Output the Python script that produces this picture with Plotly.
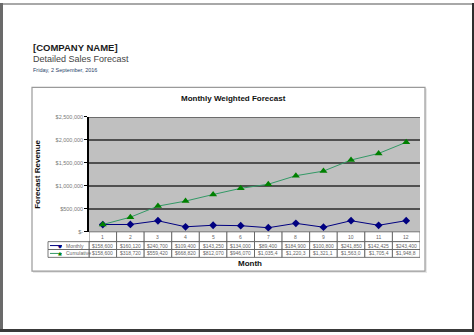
import plotly.graph_objects as go
import numpy as np

# ---- data ----
months = list(range(1, 13))
month_labels = [str(m) for m in months]
monthly = [158600, 160120, 240700, 109400, 143250, 134000, 89400, 184900, 100800, 241850, 142425, 243400]
cumulative = list(np.cumsum(monthly))
y_tickvals = [0, 500000, 1000000, 1500000, 2000000, 2500000]
y_ticktext = ["$-", "$500,000", "$1,000,000", "$1,500,000", "$2,000,000", "$2,500,000"]
series_names = ["Monthly", "Cumulative"]

W, H = 474, 335
def px(x):
    return x / W
def py(y):
    return 1 - y / H

FONT = "Liberation Sans, Arial, sans-serif"
NAVY = "#000080"
GREEN = "#008000"
GREEN_LINE = "#339966"

fig = go.Figure()
fig.add_trace(go.Scatter(x=months, y=monthly, mode="lines+markers", name="Monthly",
                         line=dict(color=NAVY, width=1),
                         marker=dict(symbol="diamond", size=6, color=NAVY)))
fig.add_trace(go.Scatter(x=months, y=cumulative, mode="lines+markers", name="Cumulative",
                         line=dict(color=GREEN_LINE, width=1),
                         marker=dict(symbol="triangle-up", size=7, color=GREEN)))

shapes = []
annotations = []

# page frame
shapes += [
    dict(type="rect", xref="paper", yref="paper", x0=0, x1=1, y0=py(2), y1=1, fillcolor="#a8a8a8", line_width=0, layer="below"),
    dict(type="rect", xref="paper", yref="paper", x0=0, x1=px(3), y0=0, y1=1, fillcolor="#6a6a6a", line_width=0, layer="below"),
    dict(type="rect", xref="paper", yref="paper", x0=0, x1=1, y0=0, y1=py(332), fillcolor="#3a3a3a", line_width=0, layer="below"),
    dict(type="rect", xref="paper", yref="paper", x0=px(472), x1=1, y0=0, y1=1, fillcolor="#2e2e2e", line_width=0, layer="below"),
]
# chart box with soft shadow
shapes.append(dict(type="rect", xref="paper", yref="paper", x0=px(33), x1=px(427), y0=py(275), y1=py(87),
                   fillcolor="#e8e8e8", line_width=0, layer="below"))
shapes.append(dict(type="rect", xref="paper", yref="paper", x0=px(32), x1=px(425), y0=py(273), y1=py(86),
                   fillcolor="white", line=dict(color="#9a9a9a", width=1.2), layer="below"))
# plot area background
shapes.append(dict(type="rect", xref="x domain", yref="y domain", x0=0, x1=1, y0=0, y1=1,
                   fillcolor="#c0c0c0", line_width=0, layer="below"))
# top gridline of the plot area
shapes.append(dict(type="line", xref="x domain", yref="y", x0=0, x1=1, y0=y_tickvals[-1], y1=y_tickvals[-1],
                   line=dict(color="#505050", width=1.5), layer="below"))

# table rows (pixel y bounds)
r0, r1, r2, r3 = 233, 243, 251, 259
lx0 = 48
tcol = "#555555"
tfont = dict(family=FONT, size=5, color="#666666")
for i, m in enumerate(months):
    for (ya, yb) in [(r0, r1), (r1, r2), (r2, r3)]:
        shapes.append(dict(type="rect", xref="x", yref="paper", x0=m - 0.5, x1=m + 0.5,
                           y0=py(yb), y1=py(ya), line=dict(color=tcol, width=0.8), fillcolor="white", layer="above"))
    annotations.append(dict(x=m, y=py((r0 + r1) / 2), xref="x", yref="paper", yanchor="middle",
                            text=month_labels[i], showarrow=False, font=tfont))
    annotations.append(dict(x=m, y=py((r1 + r2) / 2), xref="x", yref="paper", yanchor="middle",
                            text=f"${monthly[i]:,.0f}"[:8], showarrow=False, font=tfont))
    annotations.append(dict(x=m, y=py((r2 + r3) / 2), xref="x", yref="paper", yanchor="middle",
                            text=f"${cumulative[i]:,.0f}"[:8], showarrow=False, font=tfont))
# legend column
for k, (ya, yb) in enumerate([(r1, r2), (r2, r3)]):
    yc = py((ya + yb) / 2)
    shapes.append(dict(type="rect", xref="paper", yref="paper", x0=px(lx0), x1=px(89),
                       y0=py(yb), y1=py(ya), line=dict(color=tcol, width=0.8), fillcolor="white", layer="above"))
    col = NAVY if k == 0 else GREEN_LINE
    shapes.append(dict(type="line", xref="paper", yref="paper", x0=px(50), x1=px(62),
                       y0=yc, y1=yc, line=dict(color=col, width=1), layer="above"))
    annotations.append(dict(x=px(56), y=yc, xref="paper", yref="paper", yanchor="middle",
                            text="◆" if k == 0 else "▲", showarrow=False,
                            font=dict(family="DejaVu Sans", size=5, color=NAVY if k == 0 else GREEN)))
    annotations.append(dict(x=px(64), y=yc, xref="paper", yref="paper", xanchor="left", yanchor="middle",
                            text=series_names[k], showarrow=False, font=tfont))

# header texts
annotations += [
    dict(x=px(31), y=py(45), xref="paper", yref="paper", xanchor="left", yanchor="middle",
         text="<b>[COMPANY NAME]</b>", showarrow=False, font=dict(family=FONT, size=9.5, color="#1a1a1a")),
    dict(x=px(31), y=py(57), xref="paper", yref="paper", xanchor="left", yanchor="middle",
         text="Detailed Sales Forecast", showarrow=False, font=dict(family=FONT, size=9, color="#444444")),
    dict(x=px(31), y=py(68), xref="paper", yref="paper", xanchor="left", yanchor="middle",
         text="Friday, 2 September, 2016", showarrow=False, font=dict(family=FONT, size=5.5, color="#2a3f6a")),
    dict(x=px(233), y=py(97), xref="paper", yref="paper", xanchor="center", yanchor="middle",
         text="<b>Monthly Weighted Forecast</b>", showarrow=False, font=dict(family=FONT, size=8, color="#111111")),
    dict(x=px(38), y=py(175), xref="paper", yref="paper", xanchor="center", yanchor="middle", textangle=-90,
         text="<b>Forecast Revenue</b>", showarrow=False, font=dict(family=FONT, size=8, color="#111111")),
    dict(x=px(250), y=py(265), xref="paper", yref="paper", xanchor="center", yanchor="middle",
         text="<b>Month</b>", showarrow=False, font=dict(family=FONT, size=8, color="#111111")),
]

fig.update_layout(
    width=W, height=H,
    margin=dict(l=0, r=0, t=0, b=0),
    paper_bgcolor="white",
    plot_bgcolor="#c0c0c0",
    showlegend=False,
    shapes=shapes,
    annotations=annotations,
    xaxis=dict(domain=[px(89), px(420)], range=[0.5, 12.5], showgrid=False, zeroline=False,
               showticklabels=False, ticks="", showline=False, fixedrange=True),
    yaxis=dict(domain=[py(233), py(116)], range=[0, 2500000], tickvals=y_tickvals, ticktext=y_ticktext,
               showgrid=True, gridcolor="#505050", gridwidth=1.5, zeroline=False,
               showline=True, linecolor="#000000", linewidth=1.5, ticks="outside", ticklen=3,
               tickcolor="#000000", tickfont=dict(family=FONT, size=5.5, color="#7a7a7a"), fixedrange=True),
)

fig.write_html("out.html")
